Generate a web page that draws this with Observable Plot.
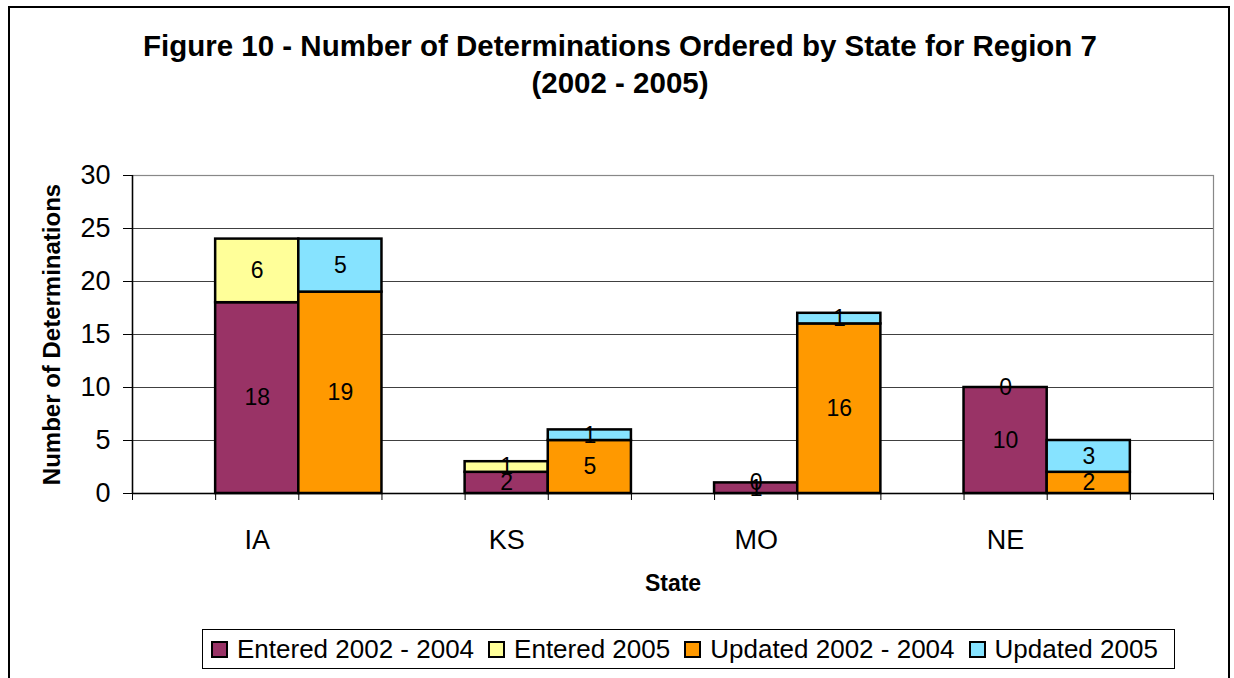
<!DOCTYPE html>
<html>
<head>
<meta charset="utf-8">
<script src="https://cdn.jsdelivr.net/npm/d3@7"></script>
<script src="https://cdn.jsdelivr.net/npm/@observablehq/plot@0.6"></script>
<style>
  html, body { margin: 0; padding: 0; background: #fff; }
  body { width: 1234px; height: 678px; position: relative; overflow: hidden; font-family: "Liberation Sans", Arial, sans-serif; }
  #frame { position: absolute; left: 8px; top: 6px; width: 1222px; height: 690px; border: 2px solid #000; box-sizing: border-box; }
  #title { position: absolute; left: 8px; top: 27px; width: 1224px; text-align: center; font-weight: bold; font-size: 29.5px; line-height: 37px; color: #000; }
  #chart { position: absolute; left: 0; top: 120px; }
  #legend { position: absolute; left: 202px; top: 629px; height: 40px; box-sizing: border-box; border: 1.5px solid #000; display: flex; align-items: center; padding: 0 16px 0 8px; font-size: 26px; background: #fff; }
  .item { display: flex; align-items: center; margin-right: 14px; }
  .item:last-child { margin-right: 0; }
  .sw { width: 13px; height: 13px; border: 2px solid #000; margin-right: 9px; }
  g[aria-label="y-axis label"] text { font-weight: bold; font-size: 24px; }
  g[aria-label="x-axis label"] text { font-weight: bold; font-size: 23px; }
</style>
</head>
<body>
<div id="frame"></div>
<div id="title">Figure 10 - Number of Determinations Ordered by State for Region 7<br>(2002 - 2005)</div>
<div id="chart"></div>
<div id="legend"></div>
<script>
const states = ["IA", "KS", "MO", "NE"];
const series = ["Entered 2002 - 2004", "Entered 2005", "Updated 2002 - 2004", "Updated 2005"];
const entered0204 = [18, 2, 1, 10];
const entered2005 = [6, 1, 0, 0];
const updated0204 = [19, 5, 16, 2];
const updated2005 = [5, 1, 1, 3];
const colors = ["#993366", "#FFFF99", "#FF9900", "#86E3FF"];
const yTicks = [0, 5, 10, 15, 20, 25, 30];

// Build stacked rows: each state occupies 3 slots (entered, updated, gap), one leading empty slot.
const rows = [];
states.forEach((s, i) => {
  const groups = [
    {slot: 3 * i + 1, vals: [entered0204[i], entered2005[i]], ser: [0, 1]},
    {slot: 3 * i + 2, vals: [updated0204[i], updated2005[i]], ser: [2, 3]}
  ];
  groups.forEach(g => {
    let base = 0;
    g.vals.forEach((v, k) => {
      rows.push({state: s, series: series[g.ser[k]], value: v, x1: g.slot, x2: g.slot + 1, y1: base, y2: base + v});
      base += v;
    });
  });
});
const nSlots = states.length * 3 + 1;

const chart = Plot.plot({
  width: 1234,
  height: 480,
  marginTop: 55,
  marginBottom: 107,
  marginLeft: 132,
  marginRight: 21,
  style: {fontFamily: '"Liberation Sans", Arial, sans-serif', background: "transparent", overflow: "visible", color: "#000"},
  x: {domain: [0, nSlots]},
  y: {domain: [0, 30]},
  color: {domain: series, range: colors},
  marks: [
    Plot.ruleY(yTicks.slice(1, -1), {stroke: "#404040", strokeWidth: 1}),
    Plot.frame({stroke: "#888", strokeWidth: 1.2}),
    Plot.rect(rows, {x1: "x1", x2: "x2", y1: "y1", y2: "y2", fill: "series", stroke: "#000", strokeWidth: 2.5}),
    Plot.text(rows, {x: d => (d.x1 + d.x2) / 2, y: d => (d.y1 + d.y2) / 2, text: d => String(d.value), fontSize: 23, fill: "#000"}),
    Plot.ruleX([0], {stroke: "#000", strokeWidth: 1.5}),
    Plot.ruleY([0], {stroke: "#000", strokeWidth: 1.5}),
    Plot.axisY({ticks: yTicks, tickSize: 9, tickPadding: 13, fontSize: 27, label: "Number of Determinations", labelAnchor: "center", labelArrow: "none", labelOffset: 90}),
    Plot.axisX({ticks: d3.range(0, nSlots + 1), tickSize: 7, tickFormat: () => "", label: null}),
    Plot.axisX({ticks: states.map((s, i) => 3 * i + 1.5), tickSize: 0, tickPadding: 36, tickFormat: v => states[Math.round((v - 1.5) / 3)], fontSize: 27, label: "State", labelAnchor: "center", labelArrow: "none", labelOffset: 97})
  ]
});
document.getElementById("chart").appendChild(chart);

const legend = document.getElementById("legend");
series.forEach((s, i) => {
  const item = document.createElement("div");
  item.className = "item";
  const sw = document.createElement("div");
  sw.className = "sw";
  sw.style.background = colors[i];
  const t = document.createElement("span");
  t.textContent = s;
  item.appendChild(sw);
  item.appendChild(t);
  legend.appendChild(item);
});
</script>
</body>
</html>
